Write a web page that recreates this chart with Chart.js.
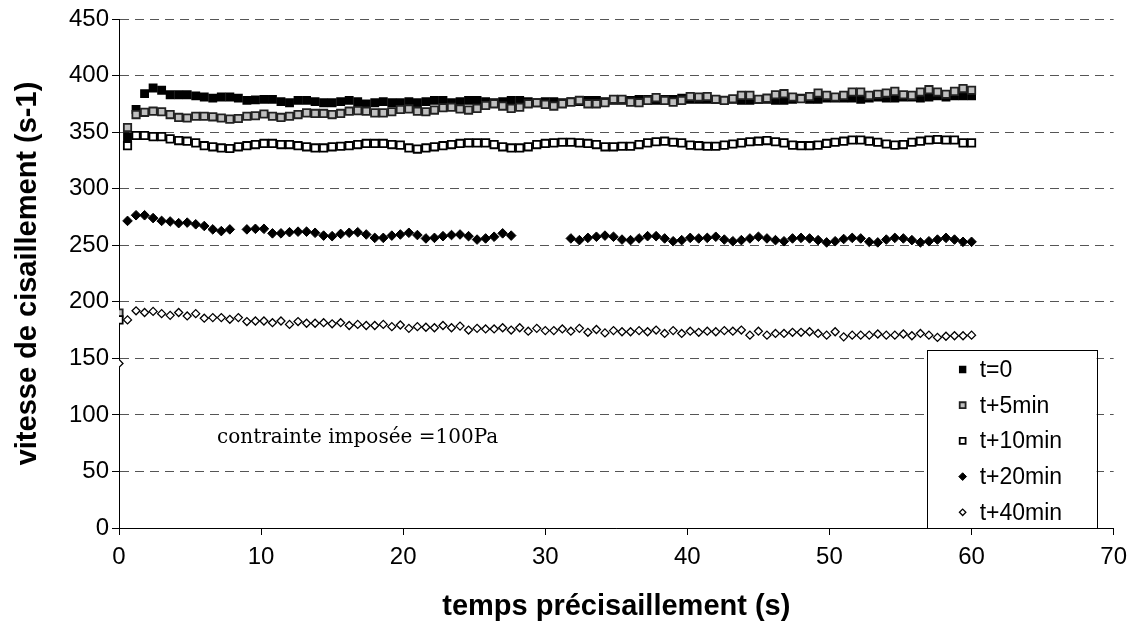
<!DOCTYPE html>
<html>
<head>
<meta charset="utf-8">
<script src="https://cdn.jsdelivr.net/npm/chart.js@4/dist/chart.umd.min.js"></script>
<style>
  html, body { margin: 0; padding: 0; background: #fff; }
  #chart { display: block; }
</style>
</head>
<body>
<canvas id="chart" width="1135" height="628"></canvas>
<script>
// sampling times (s)
const timeS = [
  0, 0.6, 1.2, 1.8, 2.4, 3, 3.6, 4.2, 4.8, 5.4,
  6, 6.6, 7.2, 7.8, 8.4, 9, 9.6, 10.2, 10.8, 11.4,
  12, 12.6, 13.2, 13.8, 14.4, 15, 15.6, 16.2, 16.8, 17.4,
  18, 18.6, 19.2, 19.8, 20.4, 21, 21.6, 22.2, 22.8, 23.4,
  24, 24.6, 25.2, 25.8, 26.4, 27, 27.6, 28.2, 28.8, 29.4,
  30, 30.6, 31.2, 31.8, 32.4, 33, 33.6, 34.2, 34.8, 35.4,
  36, 36.6, 37.2, 37.8, 38.4, 39, 39.6, 40.2, 40.8, 41.4,
  42, 42.6, 43.2, 43.8, 44.4, 45, 45.6, 46.2, 46.8, 47.4,
  48, 48.6, 49.2, 49.8, 50.4, 51, 51.6, 52.2, 52.8, 53.4,
  54, 54.6, 55.2, 55.8, 56.4, 57, 57.6, 58.2, 58.8, 59.4,
  60
];

// shear rate (s-1) per series
const rateT0 = [
  null, 346, 370, 384, 389, 387, 383, 383, 383, 382,
  381, 380, 381, 381, 380, 378, 378.5, 379, 379, 377,
  376, 378, 378, 377, 376, 376, 377, 378, 377, 375,
  376, 377, 376, 376, 377, 376, 377, 378, 378, 376,
  377, 378, 378, 377, 376, 377, 378, 378, 377, 376,
  377, 377, 376, 377, 377, 378, 378, 377, 378, 378,
  378, 379, 379, 378, 379, 379, 380, 379, 379, 379,
  379, 378, 379, 378, 378, 379, 379, 378, 378, 379,
  380, 379, 379, 380, 380, 380, 380, 379, 380, 381,
  380, 380, 381, 381, 380, 381, 382, 381, 382, 382,
  382
];
const rateT5 = [
  190, 354, 365.5, 367.5, 368.5, 368, 365.5, 363, 362.5, 364,
  364, 363.5, 362.5, 361.5, 362, 364, 364.5, 366, 364, 363,
  364, 365.5, 367, 366.5, 366.5, 365.5, 366.5, 368.5, 369, 368.5,
  367, 367, 368, 370, 370.5, 368.5, 368, 369.5, 371.5, 372,
  370.5, 369.5, 371, 373.5, 375, 373, 371, 372, 375, 376,
  374.5, 373, 375, 376.5, 378, 375, 375, 376, 379, 379,
  376.5, 376, 378, 380.5, 378, 376.5, 378, 381.5, 381, 381.5,
  379, 378, 379.5, 382.5, 382.5, 379, 380, 383, 384, 381,
  379.5, 381.5, 384.5, 382.5, 381, 382.5, 385.5, 385.5, 382.5, 383.5,
  384.5, 386, 383, 382.5, 385.5, 387.5, 385.5, 383.5, 386, 388.5,
  387
];
const rateT10 = [
  184, 338, 347, 347, 346, 346, 344, 342.5, 342, 340.5,
  338, 337, 336, 335.5, 337, 338, 339, 340, 340, 339,
  339, 338, 337, 336, 336, 337, 337.5, 338, 339, 340,
  340, 340, 339, 338.5, 336, 335, 336, 337, 338, 339,
  340, 340.5, 340.5, 340.5, 339, 337, 336, 336, 337, 339,
  340, 340.5, 341, 341, 340.5, 340, 339, 337, 337, 337.5,
  337.5, 339, 340.5, 341.5, 342, 341, 340.5, 338.5, 338, 337.5,
  337.5, 338.5, 339.5, 340.5, 341.5, 342, 342.5, 341.5, 340.5, 338.5,
  338, 338, 338.5, 340, 341, 342, 343, 343, 342, 341,
  339.5, 338.5, 339, 341, 342, 343, 343.5, 343, 343, 340.5,
  340.5
];
const rateT20 = [
  null, 271.5, 276.5, 276.5, 274, 271.5, 271, 269.5, 270, 268.5,
  267, 264, 262.5, 264, null, 264, 264.5, 264.5, 260.5, 260.5,
  261.5, 262, 262, 261, 258.5, 258, 260, 261, 261.5, 259.5,
  256.5, 256.5, 258.5, 259.5, 261, 259, 256, 256.5, 258, 259,
  259.5, 258, 255, 256, 257.5, 260.5, 258.5, null, null, null,
  null, null, null, 256, 254.5, 256.5, 257.5, 258.5, 257.5, 255,
  254.5, 256, 258, 258, 256, 253.5, 254.5, 256.5, 256, 256.5,
  257.5, 255, 253.5, 254.5, 256, 257.5, 256, 254.5, 253.5, 256,
  256.5, 256, 254.5, 252.5, 253.5, 255.5, 256.5, 256, 253, 252.5,
  255, 256.5, 256, 254.5, 252.5, 253.5, 255, 256.5, 255, 253,
  253
];
const rateT40 = [
  145.5, 184, 192, 190.5, 191.5, 189.5, 188, 190.5, 187.5, 189.5,
  185.5, 186, 186, 184.5, 186, 182.5, 183, 183, 181.5, 183,
  180, 182.5, 181, 181, 181.5, 180.5, 181.5, 179, 180, 179,
  179, 180, 178, 179.5, 176.5, 178, 177.5, 177, 179, 177,
  178.5, 175, 176.5, 176, 176, 177, 175, 177, 174, 176.5,
  174.5, 174.5, 176, 174, 176.5, 173, 175.5, 172.5, 174.5, 173.5,
  173.5, 174.5, 173.5, 175, 172, 174.5, 172, 174, 173, 174,
  173.5, 174.5, 174, 175, 170.5, 174, 170.5, 172, 172, 173,
  173, 173.5, 172, 170.5, 173.5, 169, 170.5, 170.5, 170.5, 171.5,
  170.5, 170.5, 171.5, 170, 172, 170.5, 168.5, 169.5, 170, 170,
  170.5
];

const seriesLabels = ["t=0", "t+5min", "t+10min", "t+20min", "t+40min"];
const xMin = 0, xMax = 70, xStep = 10;
const yMin = 0, yMax = 450, yStep = 50;
const noteText = "contrainte imposée =100Pa";
const notePos = { x: 6.9, y: 80 };

const sans = "'Liberation Sans', Arial, sans-serif";

const toPoints = (vals) => timeS.map((t, k) => ({ x: t, y: vals[k] }));

const makeSet = (label, vals, style, fill, border, radius, bw, order) => ({
  label,
  data: toPoints(vals),
  pointStyle: style,
  pointRadius: radius,
  pointBackgroundColor: fill,
  pointBorderColor: border,
  pointBorderWidth: bw,
  showLine: false,
  order
});

// legend drawn as a framed box in the lower right corner of the plot
const boxLegend = {
  id: "boxLegend",
  afterDatasetsDraw(chart) {
    const { ctx, chartArea } = chart;
    const w = 170, h = 178;
    const left = chartArea.right - 17 - w;
    const top = chartArea.bottom - h;
    ctx.save();
    ctx.fillStyle = "#fff";
    ctx.fillRect(left, top, w, h);
    ctx.strokeStyle = "#000";
    ctx.lineWidth = 1;
    ctx.strokeRect(Math.round(left) + 0.5, Math.round(top) + 0.5, w, h);
    ctx.font = "23px " + sans;
    ctx.textBaseline = "middle";
    ctx.textAlign = "left";
    chart.data.datasets.forEach((ds, k) => {
      const y = top + 19.5 + k * 35.7;
      ctx.fillStyle = ds.pointBackgroundColor;
      ctx.strokeStyle = ds.pointBorderColor;
      ctx.lineWidth = ds.pointBorderWidth;
      Chart.helpers.drawPoint(ctx, {
        pointStyle: ds.pointStyle,
        radius: ds.pointRadius * 0.8,
        borderWidth: ds.pointBorderWidth,
        rotation: 0
      }, left + 36, y);
      ctx.fillStyle = "#000";
      ctx.fillText(ds.label, left + 53, y + 1);
    });
    ctx.restore();
  }
};

const noteLabel = {
  id: "noteLabel",
  afterDatasetsDraw(chart) {
    const { ctx, scales } = chart;
    ctx.save();
    ctx.font = "20px 'DejaVu Serif', 'Liberation Serif', serif";
    ctx.fillStyle = "#000";
    ctx.textBaseline = "middle";
    ctx.textAlign = "left";
    ctx.fillText(noteText, scales.x.getPixelForValue(notePos.x), scales.y.getPixelForValue(notePos.y));
    ctx.restore();
  }
};

new Chart(document.getElementById("chart"), {
  type: "scatter",
  data: {
    datasets: [
      makeSet(seriesLabels[0], rateT0, "rect", "#000", "#000", 5.2, 1.5, 5),
      makeSet(seriesLabels[1], rateT5, "rect", "#c0c0c0", "#222", 5.2, 1.8, 4),
      makeSet(seriesLabels[2], rateT10, "rect", "#fff", "#000", 5.2, 1.8, 3),
      makeSet(seriesLabels[3], rateT20, "rectRot", "#000", "#000", 4.8, 1, 2),
      makeSet(seriesLabels[4], rateT40, "rectRot", "#fff", "#000", 4, 1.3, 1)
    ]
  },
  options: {
    responsive: false,
    animation: false,
    events: [],
    layout: { padding: { top: 19, right: 17, left: 0, bottom: 0 } },
    plugins: {
      legend: { display: false },
      tooltip: { enabled: false }
    },
    scales: {
      x: {
        type: "linear",
        min: xMin,
        max: xMax,
        ticks: { stepSize: xStep, color: "#000", padding: 8, font: { family: sans, size: 24 } },
        grid: { drawOnChartArea: false, drawTicks: true, tickLength: 7, tickColor: "#000" },
        border: { color: "#000", width: 1 },
        title: {
          display: true,
          text: "temps précisaillement (s)",
          color: "#000",
          font: { family: sans, size: 29, weight: "bold" },
          padding: { top: 0, bottom: 4 }
        },
        afterFit: (scale) => { scale.height = 100; }
      },
      y: {
        min: yMin,
        max: yMax,
        ticks: { stepSize: yStep, color: "#000", padding: 3, font: { family: sans, size: 24 } },
        grid: {
          color: "#555",
          lineWidth: 1,
          drawTicks: true,
          tickLength: 7,
          tickColor: "#000",
          tickBorderDash: []
        },
        border: { color: "#000", width: 1, dash: [9, 6] },
        title: {
          display: true,
          text: "vitesse de cisaillement (s-1)",
          color: "#000",
          font: { family: sans, size: 29, weight: "bold" },
          padding: { top: 11, bottom: 0 }
        },
        afterFit: (scale) => { scale.width = 119; }
      }
    }
  },
  plugins: [boxLegend, noteLabel]
});
</script>
</body>
</html>
